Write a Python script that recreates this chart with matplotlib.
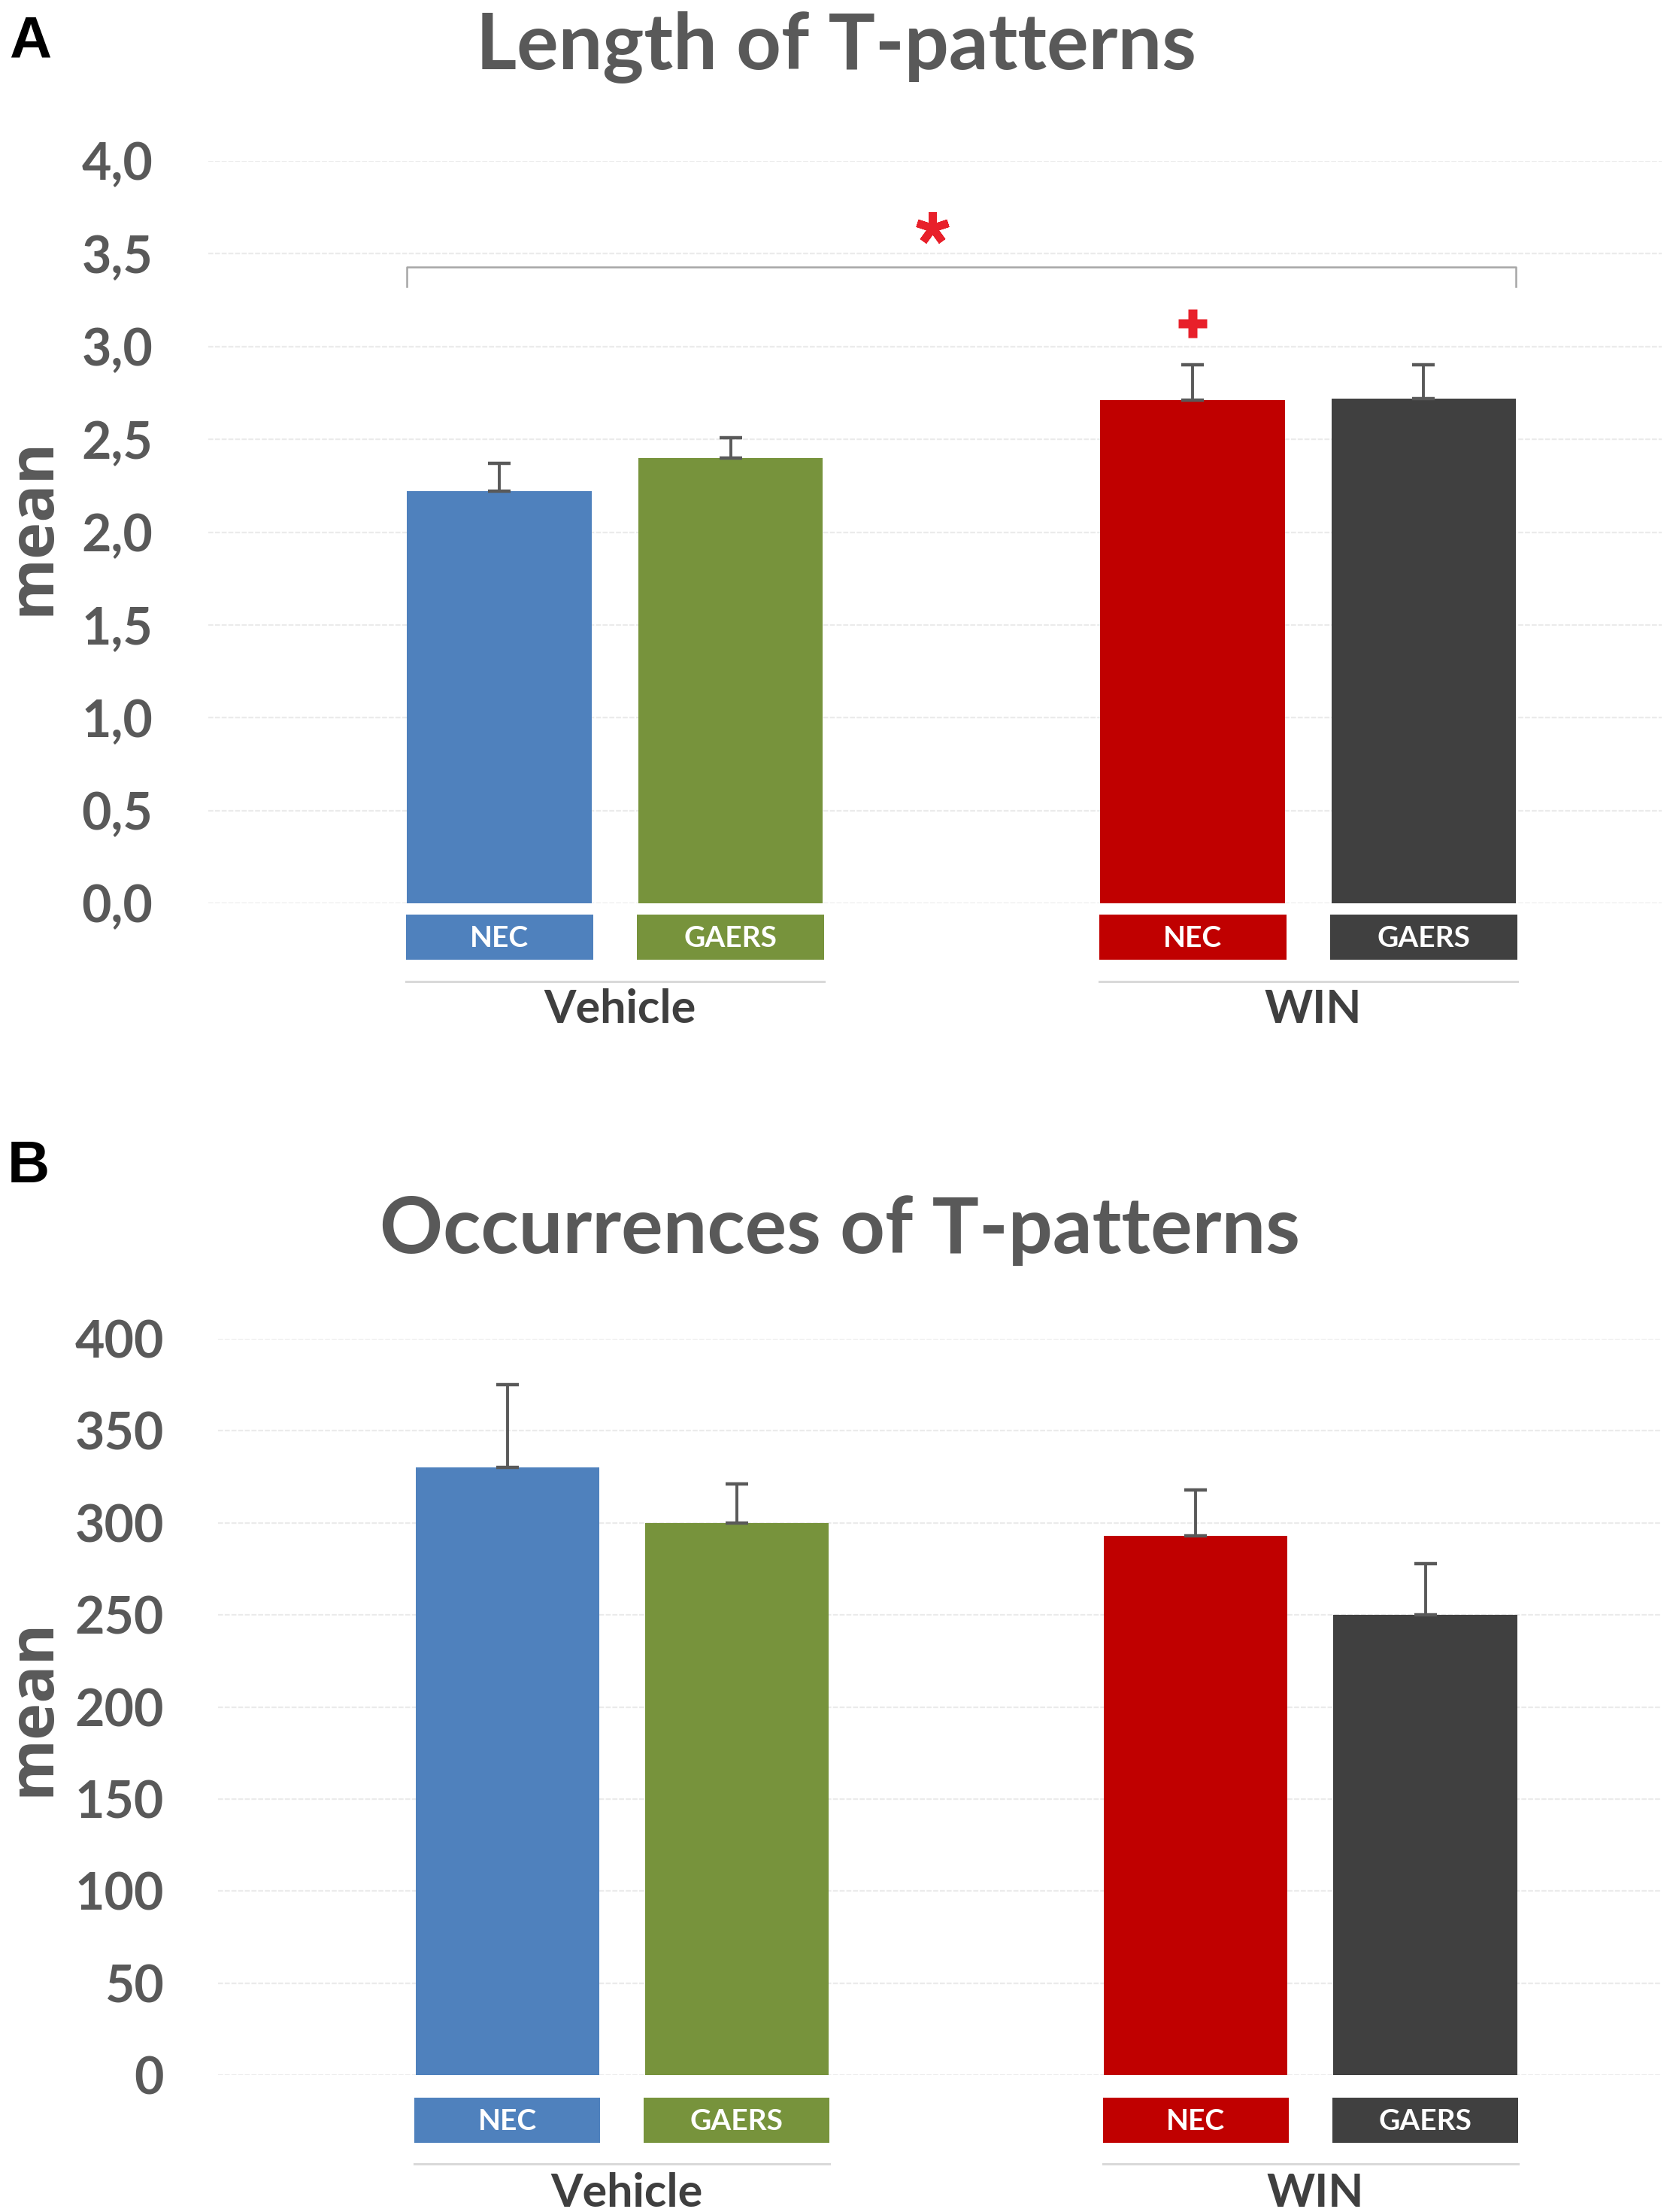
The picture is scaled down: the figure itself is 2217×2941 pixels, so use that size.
import matplotlib
matplotlib.use("Agg")
import matplotlib.pyplot as plt
import matplotlib.transforms as mtransforms
from matplotlib.patches import Rectangle

# ---------------- data ----------------
groups = ["Vehicle", "WIN"]
strains = ["NEC", "GAERS", "NEC", "GAERS"]
positions = [0, 1, 3, 4]
bar_colors = ["#4F81BD", "#77933C", "#C00000", "#404040"]

length_mean = [2.22, 2.40, 2.71, 2.72]
length_sem = [0.15, 0.11, 0.19, 0.18]
length_ticks = [0.0, 0.5, 1.0, 1.5, 2.0, 2.5, 3.0, 3.5, 4.0]
length_ticklabels = ["0,0", "0,5", "1,0", "1,5", "2,0", "2,5", "3,0", "3,5", "4,0"]

occ_mean = [330, 300, 293, 250]
occ_sem = [45, 21, 25, 28]
occ_ticks = [0, 50, 100, 150, 200, 250, 300, 350, 400]
occ_ticklabels = ["0", "50", "100", "150", "200", "250", "300", "350", "400"]

# significance annotations (panel A)
bracket_y = 3.427
bracket_tick_y = 3.325
star_xy = (1.875, 3.64)
plus_xy = (3.0, 3.125)

W, H = 2217, 2941
FONT = "Lato"
GRAY_TXT = "#595959"

fig = plt.figure(figsize=(W / 100, H / 100), dpi=100)
fig.patch.set_facecolor("white")


def px_axes(left, right, top, bottom):
    return fig.add_axes([left / W, 1 - bottom / H, (right - left) / W, (bottom - top) / H])


def draw_panel(ax, means, sems, ticks, ticklabels, ymax, box_top, box_h, text_base,
               line_y, group_base, pad):
    ax.set_xlim(-1.26, 5.03)
    ax.set_ylim(0, ymax)
    ax.set_axisbelow(True)
    ax.yaxis.grid(True, color="#EBEBEB", lw=1.6, linestyle=(0, (3, 1)))
    ax.xaxis.grid(False)
    for s in ax.spines.values():
        s.set_visible(False)
    ax.set_xticks([])
    ax.set_yticks(ticks)
    ax.set_yticklabels(ticklabels, fontsize=49, fontweight="bold", family=FONT, color=GRAY_TXT)
    ax.tick_params(axis="y", length=0, pad=pad)
    ax.bar(positions, means, width=0.8, color=bar_colors, zorder=2,
           yerr=[[0] * len(sems), sems],
           error_kw=dict(ecolor="#595959", elinewidth=2.8, capsize=10.5, capthick=3.2, zorder=3))
    tr = mtransforms.blended_transform_factory(ax.transData, ax.transAxes)
    for x, c, lab in zip(positions, bar_colors, strains):
        ax.add_patch(Rectangle((x - 0.405, box_top - box_h), 0.81, box_h, transform=tr,
                               color=c, clip_on=False, lw=0))
        ax.text(x, text_base, lab, transform=tr, ha="center", va="baseline", color="white",
                fontsize=28, fontweight="bold", family=FONT)
    for gi, g in enumerate(groups):
        x0, x1 = positions[2 * gi], positions[2 * gi + 1]
        ax.plot([x0 - 0.405, x1 + 0.405], [line_y, line_y], transform=tr, color="#D9D9D9",
                lw=2.2, clip_on=False)
        ax.text((x0 + x1) / 2 + 0.02, group_base, g, transform=tr, ha="center", va="baseline",
                color="#3F3F3F", fontsize=44, fontweight="bold", family=FONT)


# ---------------- panel A ----------------
axA = px_axes(277, 2210, 214, 1201)
hA = 1201 - 214
draw_panel(axA, length_mean, length_sem, length_ticks, length_ticklabels, 4.0,
           box_top=-15 / hA, box_h=60 / hA, text_base=-(1259 - 1201) / hA,
           line_y=-104 / hA, group_base=-(1360 - 1201) / hA, pad=53)
axA.plot([-0.4, -0.4, 4.4, 4.4], [bracket_tick_y, bracket_y, bracket_y, bracket_tick_y],
         color="#A6A6A6", lw=1.8, zorder=3)
axA.plot(*star_xy, marker=(5, 2, 0), ms=31, mew=7.5, color="#E8202A", zorder=4)
axA.plot(*plus_xy, marker="P", ms=28, color="#E8202A", mec="none", zorder=4)

# ---------------- panel B ----------------
axB = px_axes(290, 2210, 1780, 2759)
hB = 2759 - 1780
draw_panel(axB, occ_mean, occ_sem, occ_ticks, occ_ticklabels, 400,
           box_top=-30 / hB, box_h=60 / hB, text_base=-(2832 - 2759) / hB,
           line_y=-118 / hB, group_base=-(2934 - 2759) / hB, pad=52)

# ---------------- titles / labels ----------------
fig.text(1112 / W, 1 - 92 / H, "Length of T-patterns", ha="center", va="baseline",
         fontsize=75, fontweight="bold", family=FONT, color=GRAY_TXT)
fig.text(1117 / W, 1 - 1666 / H, "Occurrences of T-patterns", ha="center", va="baseline",
         fontsize=75, fontweight="bold", family=FONT, color=GRAY_TXT)
fig.text(12 / W, 1 - 77 / H, "A", ha="left", va="baseline", fontsize=56,
         fontweight="bold", family="Liberation Sans", color="black")
fig.text(10 / W, 1 - 1572 / H, "B", ha="left", va="baseline", fontsize=56,
         fontweight="bold", family="Liberation Sans", color="black")
for yc in (700, 2270):
    fig.text(44 / W, 1 - yc / H, "mean", rotation=90, ha="center", va="center",
             fontsize=60, fontweight="bold", family="Open Sans", color=GRAY_TXT)

fig.savefig("out.png", dpi=100, facecolor="white")
